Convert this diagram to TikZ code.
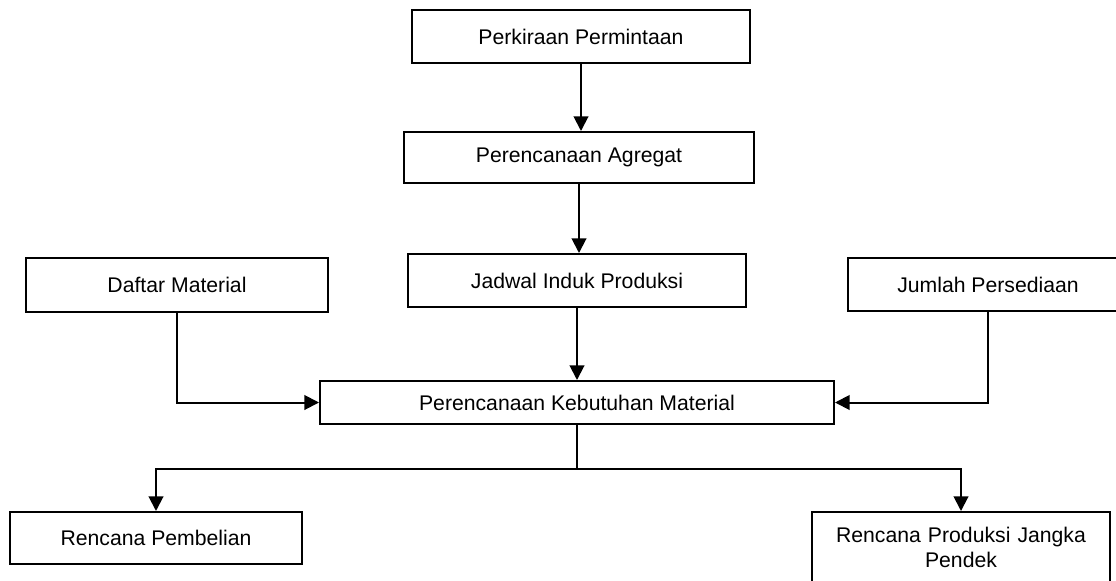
\documentclass[tikz,border=0pt]{standalone}
\usepackage{fontspec}
\setmainfont{Liberation Sans}
\usetikzlibrary{arrows.meta}
\tikzset{
  boxnode/.style={draw=black, line width=1.5pt, inner sep=0pt, align=center,
    font=\fontsize{15.9pt}{18.75pt}\selectfont},
  conn/.style={line width=1.5pt},
  arr/.style={line width=1.5pt, -{Triangle[length=11pt,width=11pt]}}
}
\begin{document}
\begin{tikzpicture}[x=0.75pt,y=-0.75pt]
  \clip (0,0) rectangle (1116,581);
  \fill[white] (0,0) rectangle (1116,581);
  \node[boxnode, minimum width=338*0.75pt, minimum height=53*0.75pt] (b1) at (581,36.5) {Perkiraan Permintaan};
  \node[boxnode, minimum width=350*0.75pt, minimum height=51*0.75pt] (b2) at (579,157.5) {Perencanaan Agregat};
  \node[boxnode, minimum width=338*0.75pt, minimum height=53*0.75pt] (jad) at (577,280.5) {Jadwal Induk Produksi};
  \node[boxnode, minimum width=302*0.75pt, minimum height=54*0.75pt] (daf) at (177,285) {Daftar Material};
  \node[boxnode, minimum width=280*0.75pt, minimum height=53*0.75pt] (jum) at (988,284.5) {Jumlah Persediaan};
  \node[boxnode, minimum width=514*0.75pt, minimum height=43*0.75pt] (pkm) at (577,402.5) {Perencanaan Kebutuhan Material};
  \node[boxnode, minimum width=292*0.75pt, minimum height=52*0.75pt] (rp) at (156,538) {Rencana Pembelian};
  \node[boxnode, minimum width=298*0.75pt, minimum height=71*0.75pt, text width=290*0.75pt] (rpj) at (961,547.5) {Rencana Produksi Jangka\\[-0.5pt]Pendek};

  \draw[arr] (b1.south) -- (b1.south |- b2.north);
  \draw[arr] (b2.south) -- (b2.south |- jad.north);
  \draw[arr] (jad.south) -- (pkm.north);
  \draw[arr] (daf.south) |- (pkm.west);
  \draw[arr] (jum.south) |- (pkm.east);
  \coordinate (split) at (577,469);
  \draw[line width=1pt] (pkm.south) -- (split);
  \draw[arr] (split) -| (rp.north);
  \draw[arr] (split) -| (rpj.north);
\end{tikzpicture}
\end{document}
